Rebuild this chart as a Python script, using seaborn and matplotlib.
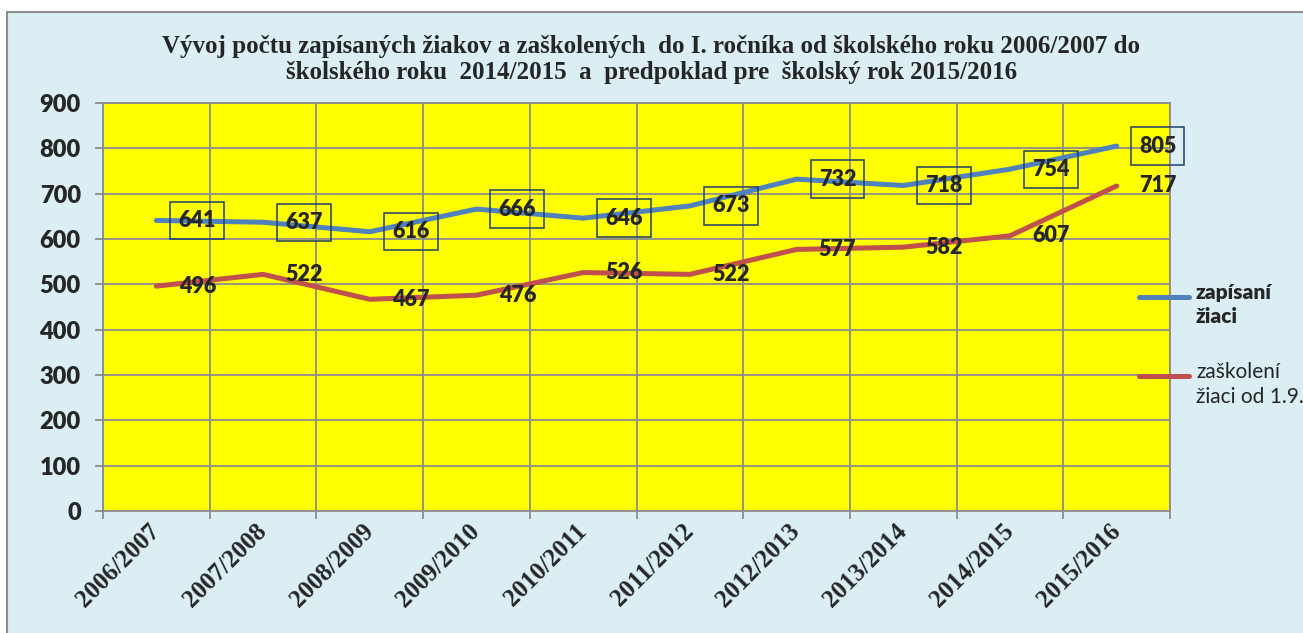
import matplotlib
matplotlib.use("Agg")
import numpy as np
import pandas as pd
import matplotlib.pyplot as plt
import seaborn as sns
from matplotlib.patches import Rectangle
from matplotlib.lines import Line2D

# ===== DATA =====
years = ["2006/2007", "2007/2008", "2008/2009", "2009/2010", "2010/2011",
         "2011/2012", "2012/2013", "2013/2014", "2014/2015", "2015/2016"]
zapisani = [641, 637, 616, 666, 646, 673, 732, 718, 754, 805]
zaskoleni = [496, 522, 467, 476, 526, 522, 577, 582, 607, 717]
series_names = ["zapísaní\nžiaci", "zaškolení\nžiaci od 1.9."]
title = ("Vývoj počtu zapísaných žiakov a zaškolených  do I. ročníka od školského roku 2006/2007 do\n"
         "školského roku  2014/2015  a  predpoklad pre  školský rok 2015/2016")

# ===== STYLE =====
BLUE = "#4F81BD"
RED = "#C0504D"
BG = "#DAEEF3"
GRID = "#8C8C8C"
BOX = "#1F3F6B"
W, H = 1303, 633
NUM_WEIGHT = "heavy"

df = pd.DataFrame({
    "rok": years * 2,
    "pocet": zapisani + zaskoleni,
    "seria": [series_names[0]] * len(years) + [series_names[1]] * len(years),
})

sns.set_style("white")
plt.rcParams["font.family"] = ["Lato", "DejaVu Sans"]

fig = plt.figure(figsize=(W / 100, H / 100), dpi=100, facecolor="white")
# chart frame (light blue area with gray border, cropped on right/bottom)
fig.add_artist(Rectangle((7 / W, -0.1), 1.2, 1 - 12 / H + 0.1, transform=fig.transFigure,
                         facecolor=BG, edgecolor=GRID, lw=1.5, zorder=0))

ax = fig.add_axes([103 / W, 1 - 511 / H, (1170 - 103) / W, (511 - 103) / H])
ax.set_facecolor("#FFFF00")

sns.lineplot(data=df, x="rok", y="pocet", hue="seria", palette=[BLUE, RED],
             linewidth=3.6, legend=False, sort=False, ax=ax)
for line in ax.lines:
    line.set_solid_capstyle("round")

# data labels
for i, (b, r) in enumerate(zip(zapisani, zaskoleni)):
    ax.annotate(str(b), (i, b), xytext=(29.5, 0), textcoords="offset points",
                ha="center", va="center", fontsize=15.5, fontweight=NUM_WEIGHT,
                bbox=dict(boxstyle="square,pad=0.38", fc="none", ec=BOX, lw=1.1),
                annotation_clip=False, zorder=5)
    ax.annotate(str(r), (i, r), xytext=(29.5, 0), textcoords="offset points",
                ha="center", va="center", fontsize=15.5, fontweight=NUM_WEIGHT,
                annotation_clip=False, zorder=5)

# axes
ax.set_xlim(-0.5, len(years) - 0.5)
ax.set_ylim(0, 900)
ax.set_yticks(range(0, 901, 100))
ax.set_xticks(range(len(years)))
ax.set_xticks(np.arange(-0.5, len(years), 1), minor=True)
ax.set_xticklabels(years, rotation=45, ha="right", va="center", rotation_mode="anchor",
                   family=["Liberation Serif"], fontweight="bold", fontsize=18)
plt.setp(ax.get_yticklabels(), fontweight=NUM_WEIGHT, fontsize=17)
ax.set_xlabel("")
ax.set_ylabel("")

ax.tick_params(axis="y", which="major", left=True, length=6, width=1.3, color=GRID, pad=10)
ax.tick_params(axis="x", which="major", bottom=True, length=0, pad=12)
ax.tick_params(axis="x", which="minor", bottom=True, length=6, width=1.3, color=GRID)
ax.grid(axis="y", which="major", color=GRID, lw=1.3)
ax.grid(axis="x", which="minor", color=GRID, lw=1.3)
ax.grid(axis="x", which="major", visible=False)
ax.set_axisbelow(True)
for sp in ax.spines.values():
    sp.set_color(GRID)
    sp.set_linewidth(1.3)

# title
fig.text(0.5, 1 - 59.5 / H, title, ha="center", va="center", family=["Liberation Serif"],
         fontweight="bold", fontsize=18, linespacing=1.22)

# legend, drawn by hand like the Excel one
for name, color, ly, weight in [(series_names[0], BLUE, 297, "heavy"),
                                (series_names[1], RED, 376, "normal")]:
    fig.add_artist(Line2D([1139 / W, 1189 / W], [1 - ly / H] * 2, color=color, lw=3.6,
                          solid_capstyle="round"))
    fig.text(1196 / W, 1 - (ly - 14) / H, name, ha="left", va="top", fontsize=15,
             fontweight=weight, linespacing=1.3)

fig.savefig("out.png", dpi=100, facecolor=fig.get_facecolor())
